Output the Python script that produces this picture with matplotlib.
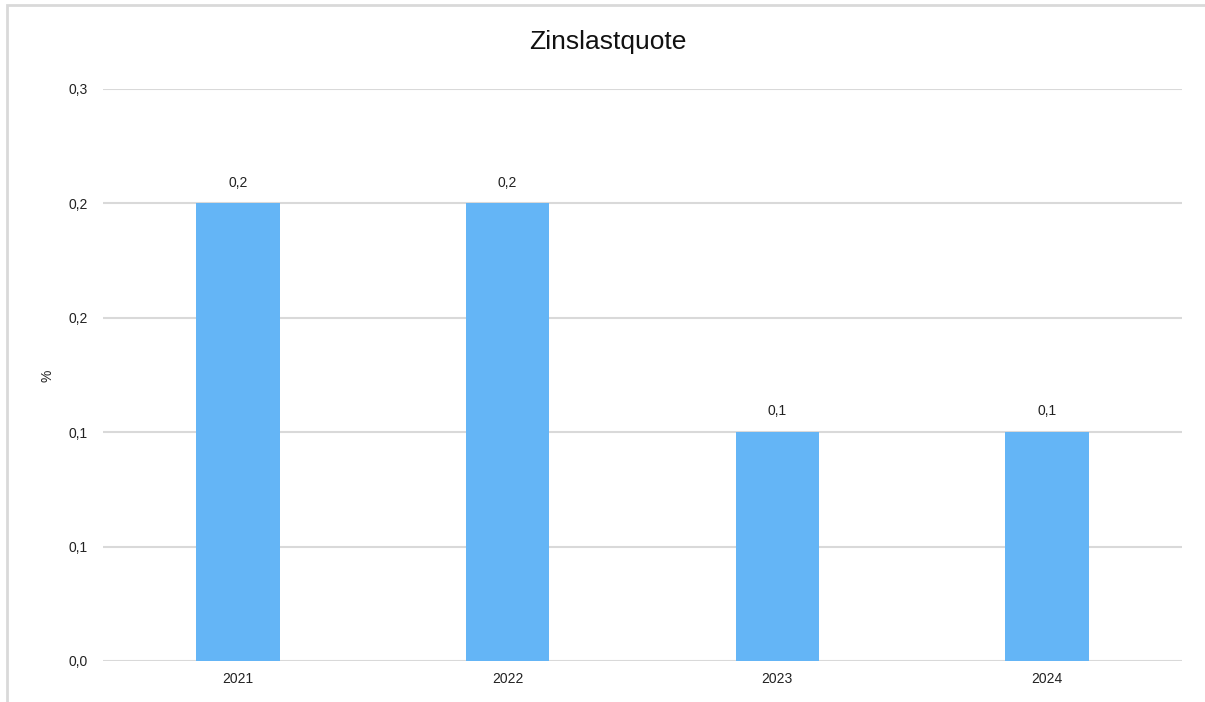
import matplotlib.pyplot as plt
from matplotlib.patches import Rectangle

# Data
years = ["2021", "2022", "2023", "2024"]
quote = [0.2, 0.2, 0.1, 0.1]
bar_labels = ["0,2", "0,2", "0,1", "0,1"]
ytick_values = [0.0, 0.05, 0.1, 0.15, 0.2, 0.25]
ytick_labels = ["0,0", "0,1", "0,1", "0,2", "0,2", "0,3"]

plt.rcParams['font.family'] = ['Liberation Sans', 'DejaVu Sans']

W, H = 1205, 702
fig = plt.figure(figsize=(W / 100, H / 100), dpi=100)

# light frame (cropped on right/bottom in the reference)
fig.patches.append(Rectangle((7 / W, -0.05), 1.2, 1 - 5 / H + 0.05,
                             transform=fig.transFigure, fill=False,
                             edgecolor='#d9d9d9', linewidth=2))

ax = fig.add_axes([103 / W, 41 / H, (1182 - 103) / W, (661 - 89) / H])

x = range(len(years))
ax.bar(x, quote, width=0.31, color='#64b5f6', zorder=2)

for i, (v, lab) in enumerate(zip(quote, bar_labels)):
    ax.annotate(lab, (i, v), textcoords="offset points", xytext=(0, 10),
                ha='center', va='bottom', fontsize=10, color='#222222')

ax.set_xlim(-0.5, len(years) - 0.5)
ax.set_ylim(0, 0.25)
ax.set_xticks(list(x))
ax.set_xticklabels(years, fontsize=10, color='#222222')
ax.set_yticks(ytick_values)
ax.set_yticklabels(ytick_labels)
ax.tick_params(axis='y', labelsize=10, labelcolor='#222222', length=0, pad=11)
ax.tick_params(axis='x', length=0, pad=8)

ax.grid(axis='y', color='#d9d9d9', linewidth=1.5, zorder=0)
for s in ax.spines.values():
    s.set_visible(False)

fig.text(48 / W, 1 - 376 / H, "%", rotation=90, ha='center', va='center',
         fontsize=10, color='#222222')
fig.text(608 / W, 1 - 42 / H, "Zinslastquote", ha='center',
         va='center', fontsize=19, color='#111111')

fig.savefig("out.png", dpi=100)
